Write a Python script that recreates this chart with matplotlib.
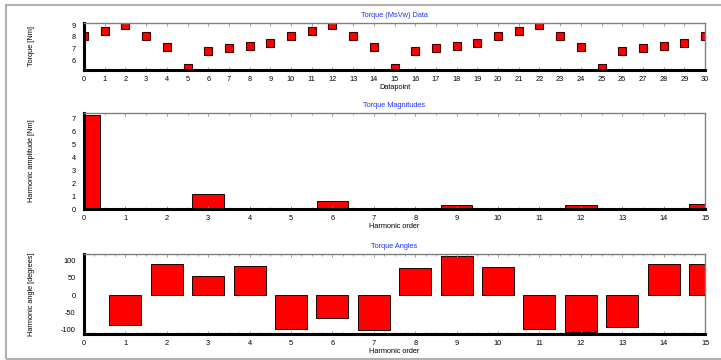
import numpy as np
import matplotlib.pyplot as plt
from matplotlib.patches import Rectangle
from matplotlib.ticker import MultipleLocator

# torque samples (period of 10 datapoints)
datapoint = list(range(31))
torque = [8.05, 8.5, 9.0, 8.1, 7.1, 5.3, 6.8, 7.05, 7.25, 7.5,
          8.05, 8.5, 9.0, 8.1, 7.1, 5.3, 6.8, 7.05, 7.25, 7.5,
          8.05, 8.5, 9.0, 8.1, 7.1, 5.3, 6.8, 7.05, 7.25, 7.5,
          8.05]

harmonic = list(range(16))
magnitude = [7.32, 0.02, 0.02, 1.19, 0.02, 0.02, 0.64, 0.02,
             0.02, 0.28, 0.02, 0.02, 0.28, 0.02, 0.02, 0.39]
# no angle bar drawn for harmonic 0
angle_order = harmonic[1:]
angle = [-89, 90, 55, 84, -100, -68, -102,
         80, 114, 83, -99, -109, -94, 90, 92]

W, H = 721, 360
plt.rcParams['font.family'] = 'Liberation Sans'
plt.rcParams['axes.unicode_minus'] = False
fig = plt.figure(figsize=(W / 100, H / 100), dpi=100)

def ax_at(x0, y0, x1, y1):
    return fig.add_axes([x0 / W, 1 - y1 / H, (x1 - x0) / W, (y1 - y0) / H])

def style(ax, title, xlabel, ylabel):
    for s in ['left', 'bottom']:
        ax.spines[s].set_linewidth(2.2)
        ax.spines[s].set_color('black')
    for s in ['top', 'right']:
        ax.spines[s].set_linewidth(1.0)
        ax.spines[s].set_color('#808080')
    ax.tick_params(labelsize=5.3, length=2, width=0.6, pad=4, colors='black')
    ax.tick_params(axis='x', which='minor', length=1.5, width=0.6)
    ax.tick_params(axis='x', which='both', top=True, direction='in', color='#909090')
    ax.tick_params(axis='y', left=False)
    ax.set_title(title, fontsize=5.3, color='#1f2fff', pad=4)
    ax.set_xlabel(xlabel, fontsize=5.3, labelpad=1)
    ax.set_ylabel(ylabel, fontsize=5.3)
    ax.yaxis.set_label_coords(-49 / 621, 0.5)

# top: torque data
ax1 = ax_at(84, 23, 705, 70)
ax1.plot(datapoint, torque, ls='none', marker='s', ms=6.3, mfc='#ff0000',
         mec='#3a0000', mew=0.8)
ax1.set_xlim(0, 30)
ax1.set_ylim(5.15, 9.2)
ax1.set_xticks(datapoint)
ax1.set_yticks([6, 7, 8, 9])
style(ax1, 'Torque (MsVw) Data', 'Datapoint', 'Torque [Nm]')

# middle: magnitudes
ax2 = ax_at(84, 113, 705, 209)
ax2.bar(harmonic, magnitude, width=0.76, color='#ff0000', edgecolor='#200000', lw=0.7)
ax2.set_xlim(0, 15)
ax2.set_ylim(0, 7.45)
ax2.set_xticks(harmonic)
ax2.set_yticks(range(8))
ax2.xaxis.set_minor_locator(MultipleLocator(0.5))
style(ax2, 'Torque Magnitudes', 'Harmonic order', 'Harmonic amplitude [Nm]')

# bottom: angles
ax3 = ax_at(84, 254, 705, 334)
ax3.bar(angle_order, angle, width=0.77, color='#ff0000', edgecolor='#200000', lw=0.7)
ax3.set_xlim(0, 15)
ax3.set_ylim(-114, 120)
ax3.set_xticks(harmonic)
ax3.set_yticks([-100, -50, 0, 50, 100])
ax3.xaxis.set_minor_locator(MultipleLocator(0.25))
style(ax3, 'Torque Angles', 'Harmonic order', 'Harmonic angle [degrees]')

# outer gray frame
fig.patches.append(Rectangle((5.5 / W, 1 - 358.5 / H), 730 / W, 354 / H,
                             transform=fig.transFigure, fill=False,
                             ec='#b0b0b0', lw=1.5))

fig.savefig('out.png', dpi=100)
